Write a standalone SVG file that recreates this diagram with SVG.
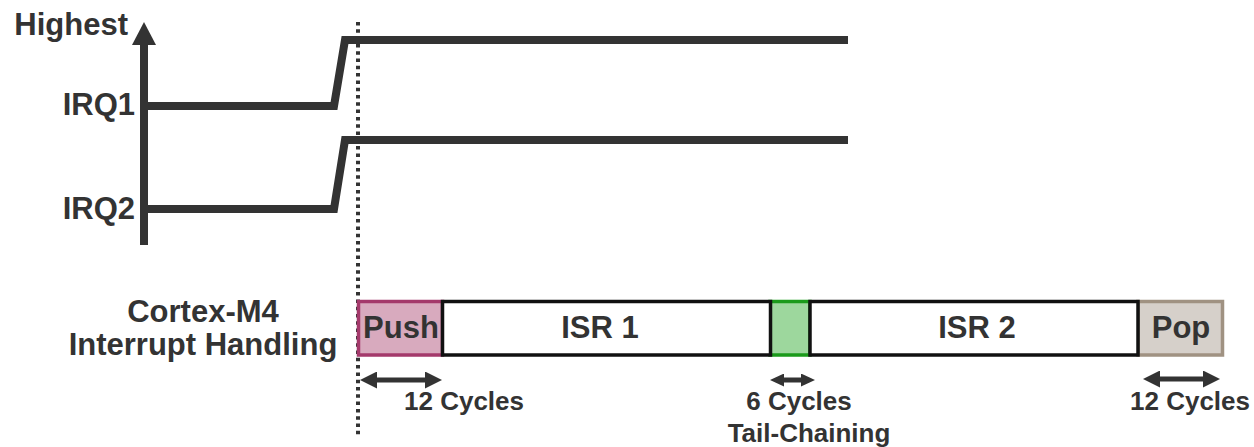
<svg xmlns="http://www.w3.org/2000/svg" width="1254" height="447" viewBox="0 0 1254 447">
  <style>
    .lbl { font-family: "Liberation Sans", Arial, Helvetica, sans-serif; font-weight: bold; fill: #333333; }
    .big { font-size: 31px; }
    .small { font-size: 26px; }
    .sig { fill: none; stroke: #333333; stroke-width: 8; stroke-linejoin: miter; }
    .span { fill: none; stroke: #333333; stroke-width: 5; }
    .seg { stroke-width: 3.5; }
  </style>
  <defs>
    <marker id="head" viewBox="0 0 17 17" markerWidth="17" markerHeight="17" markerUnits="userSpaceOnUse" refX="7" refY="8.5" orient="auto-start-reverse">
      <path d="M0,0 L17,8.5 L0,17 z" fill="#333333"/>
    </marker>
    <marker id="headSmall" viewBox="0 0 14 13" markerWidth="14" markerHeight="13" markerUnits="userSpaceOnUse" refX="6" refY="6.5" orient="auto-start-reverse">
      <path d="M0,0 L14,6.5 L0,13 z" fill="#333333"/>
    </marker>
  </defs>

  <rect width="1254" height="447" fill="#ffffff"/>

  <!-- priority axis -->
  <g id="axis">
    <line x1="144" y1="245" x2="144" y2="42" stroke="#333333" stroke-width="8"/>
    <polygon points="132,45 156,45 144,22" fill="#333333"/>
    <text class="lbl big" x="128" y="35" text-anchor="end">Highest</text>
    <text class="lbl big" x="135" y="115" text-anchor="end">IRQ1</text>
    <text class="lbl big" x="135" y="219" text-anchor="end">IRQ2</text>
  </g>

  <!-- interrupt request signals -->
  <g id="irq1-signal">
    <polyline class="sig" points="148,106 334,106 345,40 848,40"/>
  </g>
  <g id="irq2-signal">
    <polyline class="sig" points="148,209 334,209 345,140 848,140"/>
  </g>

  <!-- request arrival marker -->
  <g id="arrival">
    <line x1="358" y1="22" x2="358" y2="436" stroke="#333333" stroke-width="4" stroke-dasharray="3.5 3.8"/>
  </g>

  <!-- handling timeline -->
  <g id="handling-label">
    <text class="lbl big" x="203" y="322" text-anchor="middle">Cortex-M4</text>
    <text class="lbl big" x="203" y="355" text-anchor="middle">Interrupt Handling</text>
  </g>

  <g id="push">
    <rect class="seg" x="358.5" y="301.5" width="84" height="53.5" fill="#d8aabe" stroke="#a4396b"/>
    <text class="lbl big" x="401" y="338" text-anchor="middle">Push</text>
  </g>
  <g id="tail-chain">
    <rect class="seg" x="770" y="301.5" width="40" height="53.5" fill="#9dd79d" stroke="#1a9a1a"/>
  </g>
  <g id="pop">
    <rect class="seg" x="1138" y="301.5" width="84.5" height="53.5" fill="#d6d0ca" stroke="#a09282"/>
    <text class="lbl big" x="1181" y="338" text-anchor="middle">Pop</text>
  </g>
  <g id="isr1">
    <rect class="seg" x="442.5" y="301.5" width="328" height="53.5" fill="#ffffff" stroke="#111111"/>
    <text class="lbl big" x="600" y="338" text-anchor="middle">ISR 1</text>
  </g>
  <g id="isr2">
    <rect class="seg" x="810" y="301.5" width="328" height="53.5" fill="#ffffff" stroke="#111111"/>
    <text class="lbl big" x="977" y="338" text-anchor="middle">ISR 2</text>
  </g>

  <!-- cycle spans -->
  <g id="connectors">
    <line class="span" x1="370" y1="380" x2="432" y2="380" marker-start="url(#head)" marker-end="url(#head)"/>
    <line class="span" x1="778" y1="380" x2="807" y2="380" marker-start="url(#headSmall)" marker-end="url(#headSmall)"/>
    <line class="span" x1="1153" y1="379" x2="1210" y2="379" marker-start="url(#head)" marker-end="url(#head)"/>
  </g>

  <g id="cycle-labels">
    <text class="lbl small" x="464" y="410" text-anchor="middle">12 Cycles</text>
    <text class="lbl small" x="799" y="410" text-anchor="middle">6 Cycles</text>
    <text class="lbl small" x="809" y="442" text-anchor="middle">Tail-Chaining</text>
    <text class="lbl small" x="1190" y="410" text-anchor="middle">12 Cycles</text>
  </g>
</svg>
